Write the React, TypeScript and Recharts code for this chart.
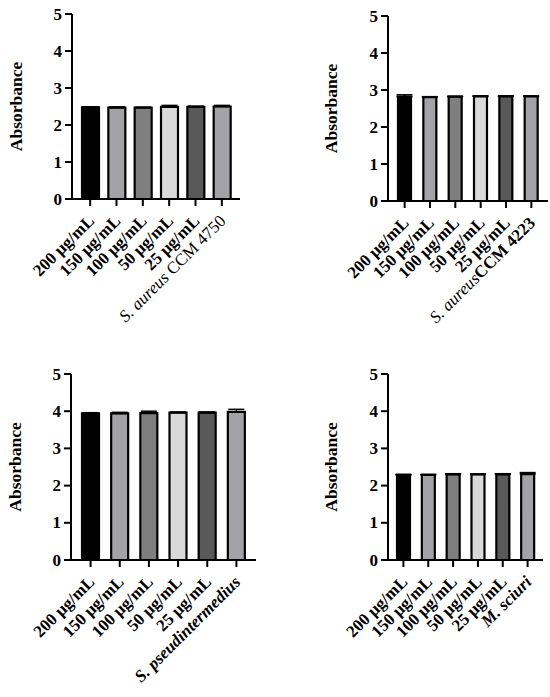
import React from 'react'
import { BarChart, Bar, XAxis, YAxis, ErrorBar, Cell } from 'recharts'

const concentrations = ['200 µg/mL', '150 µg/mL', '100 µg/mL', '50 µg/mL', '25 µg/mL']
const yTicks = [0, 1, 2, 3, 4, 5]
const barColors = ['#000000', '#a3a3a7', '#7f7f7f', '#d9d9d9', '#595959', '#a3a3a7']

const ccm4750Means = [2.48, 2.47, 2.47, 2.49, 2.49, 2.5]
const ccm4750Errors = [0.01, 0.02, 0.01, 0.04, 0.02, 0.03]

const ccm4223Means = [2.82, 2.81, 2.82, 2.83, 2.83, 2.83]
const ccm4223Errors = [0.05, 0.01, 0.01, 0.01, 0.01, 0.01]

const pseudMeans = [3.94, 3.94, 3.95, 3.96, 3.96, 3.98]
const pseudErrors = [0.02, 0.03, 0.05, 0.02, 0.02, 0.07]

const sciuriMeans = [2.29, 2.29, 2.3, 2.3, 2.3, 2.31]
const sciuriErrors = [0.01, 0.01, 0.02, 0.01, 0.02, 0.04]

type Part = { text: string; italic?: boolean; bold?: boolean }

const ccm4750Label: Part[] = [{ text: 'S. aureus', italic: true, bold: false }, { text: ' CCM 4750', bold: false }]
const ccm4223Label: Part[] = [{ text: 'S. aureus', italic: true, bold: false }, { text: 'CCM 4223', bold: true }]
const pseudLabel: Part[] = [{ text: 'S. pseudintermedius', italic: true, bold: true }]
const sciuriLabel: Part[] = [{ text: 'M. sciuri', italic: true, bold: true }]

const FONT = '"Liberation Serif", "Times New Roman", serif'

function buildRows(means: number[], errors: number[], control: Part[]) {
  const names = [...concentrations, control.map((p) => p.text).join('')]
  return names.map((name, i) => ({ name, mean: means[i], err: [0, errors[i]] }))
}

function makeXTick(control: Part[]) {
  return (props: any) => {
    const { x, y, payload, index } = props
    const ax = x + 5
    const ay = y + 16
    const isControl = index === concentrations.length
    return (
      <text
        x={ax}
        y={ay}
        transform={`rotate(-45, ${ax}, ${ay})`}
        textAnchor="end"
        style={{ fontFamily: FONT }}
        fontSize={17}
        fontWeight="bold"
        fill="#000"
      >
        {isControl
          ? control.map((p, i) => (
              <tspan key={i} fontStyle={p.italic ? 'italic' : 'normal'} fontWeight={p.bold ? 'bold' : 'normal'}>
                {p.text}
              </tspan>
            ))
          : payload.value}
      </text>
    )
  }
}

const YTick = (props: any) => {
  const { x, y, payload } = props
  return (
    <text x={x} y={y} textAnchor="end" dominantBaseline="central" style={{ fontFamily: FONT }}
      fontSize={17} fontWeight="bold" fill="#000">
      {payload.value}
    </text>
  )
}

interface PanelProps {
  left: number
  top: number
  width: number
  height: number
  plotLeft: number
  plotRight: number
  plotTop: number
  plotBottom: number
  pad: number
  barSize: number
  labelX: number
  means: number[]
  errors: number[]
  control: Part[]
}

function Panel(p: PanelProps) {
  const rows = buildRows(p.means, p.errors, p.control)
  const yLabel = (lp: any) => {
    const vb = lp.viewBox || {}
    const cy = (vb.y ?? p.plotTop) + (vb.height ?? p.plotBottom - p.plotTop) / 2
    return (
      <text
        x={p.labelX}
        y={cy}
        transform={`rotate(-90, ${p.labelX}, ${cy})`}
        textAnchor="middle"
        dominantBaseline="central"
        style={{ fontFamily: FONT }}
        fontSize={17.5}
        fontWeight="bold"
        fill="#000"
      >
        Absorbance
      </text>
    )
  }
  return (
    <div style={{ position: 'absolute', left: p.left, top: p.top }}>
      <BarChart
        width={p.width}
        height={p.height}
        data={rows}
        style={{ fontFamily: FONT }}
        margin={{ top: p.plotTop, right: p.width - p.plotRight, bottom: 0, left: 0 }}
      >
        <XAxis
          dataKey="name"
          interval={0}
          height={p.height - p.plotBottom}
          padding={{ left: p.pad, right: p.pad }}
          axisLine={{ stroke: '#000', strokeWidth: 2 }}
          tickLine={{ stroke: '#000', strokeWidth: 2 }}
          tickSize={7}
          tickMargin={0}
          tick={makeXTick(p.control)}
        />
        <YAxis
          width={p.plotLeft}
          domain={[0, 5]}
          ticks={yTicks}
          allowDataOverflow
          axisLine={{ stroke: '#000', strokeWidth: 2 }}
          tickLine={{ stroke: '#000', strokeWidth: 2 }}
          tickSize={7}
          tickMargin={3}
          tick={<YTick />}
          label={{ content: yLabel }}
        />
        <Bar dataKey="mean" barSize={p.barSize} stroke="#000" strokeWidth={2.2} isAnimationActive={false}>
          {rows.map((r, i) => (
            <Cell key={r.name} fill={barColors[i]} />
          ))}
          <ErrorBar dataKey="err" width={8} stroke="#000" strokeWidth={1.5} direction="y" isAnimationActive={false} />
        </Bar>
      </BarChart>
    </div>
  )
}

export default function App() {
  return (
    <div style={{ position: 'absolute', left: 0, top: 0, width: 550, height: 697, background: '#fff' }}>
      <Panel left={0} top={0} width={275} height={340} plotLeft={72} plotRight={240} plotTop={14} plotBottom={199}
        pad={5} barSize={17} labelX={16} means={ccm4750Means} errors={ccm4750Errors} control={ccm4750Label} />
      <Panel left={275} top={0} width={275} height={340} plotLeft={113} plotRight={273} plotTop={16} plotBottom={201}
        pad={4} barSize={13} labelX={56} means={ccm4223Means} errors={ccm4223Errors} control={ccm4223Label} />
      <Panel left={0} top={340} width={275} height={357} plotLeft={71} plotRight={256} plotTop={34} plotBottom={220}
        pad={5} barSize={17} labelX={15} means={pseudMeans} errors={pseudErrors} control={pseudLabel} />
      <Panel left={275} top={340} width={275} height={357} plotLeft={113} plotRight={268} plotTop={34} plotBottom={220}
        pad={3} barSize={13} labelX={56} means={sciuriMeans} errors={sciuriErrors} control={sciuriLabel} />
    </div>
  )
}
